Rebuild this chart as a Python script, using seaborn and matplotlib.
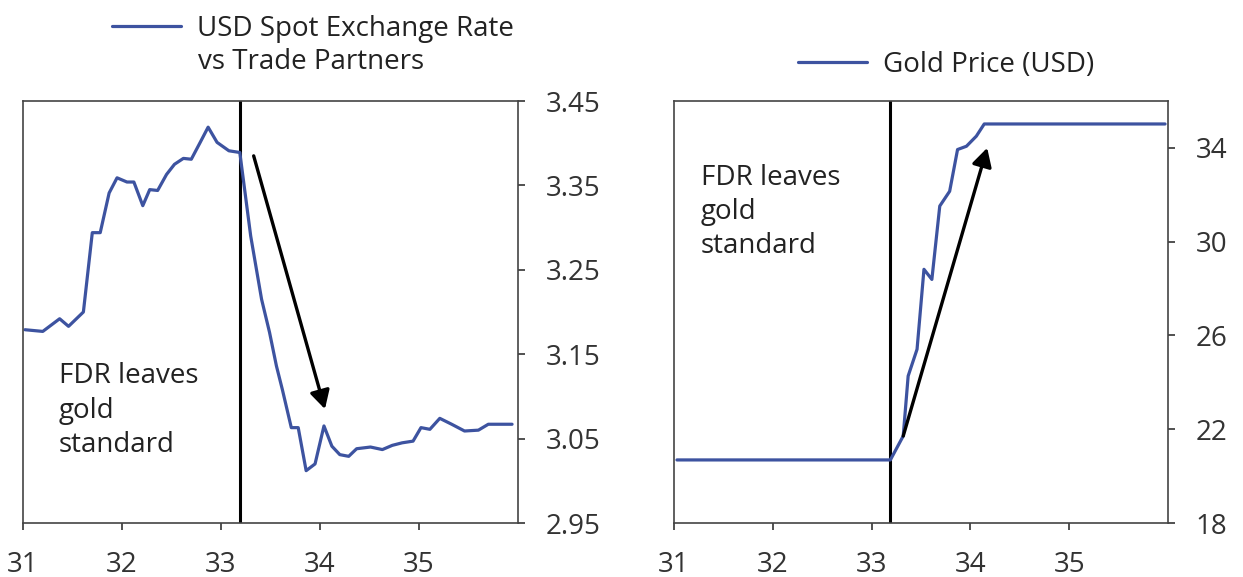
import numpy as np
import pandas as pd
import seaborn as sns
import matplotlib.pyplot as plt

# USD spot exchange rate vs trade partners (left panel)
usd_year = [31.02, 31.20, 31.37, 31.46, 31.61, 31.70, 31.78, 31.87, 31.95, 32.05,
            32.12, 32.21, 32.28, 32.36, 32.45, 32.53, 32.62, 32.70, 32.79, 32.87,
            32.96, 33.08, 33.19, 33.30, 33.41, 33.49, 33.56, 33.62, 33.71, 33.78,
            33.86, 33.95, 34.04, 34.12, 34.20, 34.29, 34.37, 34.51, 34.63, 34.73,
            34.83, 34.94, 35.02, 35.11, 35.21, 35.33, 35.46, 35.60, 35.70, 35.94]
usd_rate = [3.179, 3.177, 3.192, 3.183, 3.200, 3.294, 3.294, 3.341, 3.359, 3.354,
            3.354, 3.326, 3.345, 3.344, 3.363, 3.375, 3.382, 3.381, 3.401, 3.419,
            3.401, 3.391, 3.389, 3.290, 3.215, 3.176, 3.136, 3.108, 3.063, 3.063,
            3.012, 3.020, 3.065, 3.041, 3.031, 3.029, 3.038, 3.040, 3.037, 3.042,
            3.045, 3.047, 3.063, 3.061, 3.074, 3.067, 3.059, 3.060, 3.067, 3.067]

# gold price in USD (right panel)
gold_year = [31.03, 33.19, 33.32, 33.37, 33.46, 33.53, 33.61, 33.69, 33.79, 33.87,
             33.96, 34.06, 34.14, 35.97]
gold_price = [20.69, 20.69, 21.71, 24.27, 25.41, 28.82, 28.39, 31.52, 32.15, 33.93,
              34.07, 34.50, 35.02, 35.02]

fdr_year = 33.19
x_ticks = [31, 32, 33, 34, 35]
usd_ticks = [2.95, 3.05, 3.15, 3.25, 3.35, 3.45]
gold_ticks = [18, 22, 26, 30, 34]

usd_df = pd.DataFrame({'year': usd_year, 'rate': usd_rate})
gold_df = pd.DataFrame({'year': gold_year, 'price': gold_price})

sns.set_theme(style='white')
plt.rcParams['font.family'] = ['Open Sans', 'DejaVu Sans']
plt.rcParams['text.color'] = '#222222'
plt.rcParams['xtick.color'] = '#333333'
plt.rcParams['ytick.color'] = '#333333'

blue = '#3d53a0'
fs = 20

fig = plt.figure(figsize=(12.43, 5.77), dpi=100)
ax1 = fig.add_axes([23 / 1243, 54 / 577, 495 / 1243, 422 / 577])
ax2 = fig.add_axes([674 / 1243, 54 / 577, 494 / 1243, 422 / 577])

sns.lineplot(data=usd_df, x='year', y='rate', ax=ax1, color=blue, lw=2.3,
             label='USD Spot Exchange Rate')
sns.lineplot(data=gold_df, x='year', y='price', ax=ax2, color=blue, lw=2.3,
             label='Gold Price (USD)')

for ax in (ax1, ax2):
    ax.axvline(fdr_year, color='black', lw=2.2, zorder=1)
    ax.set_xlim(31, 36)
    ax.set_xticks(x_ticks)
    ax.set_xticklabels([str(t) for t in x_ticks], fontsize=fs)
    ax.yaxis.tick_right()
    ax.set_xlabel('')
    ax.set_ylabel('')
    for s in ax.spines.values():
        s.set_visible(True)
        s.set_color('#444444')
        s.set_linewidth(1.2)
    ax.tick_params(axis='both', direction='out', length=5, width=1.2,
                   labelsize=fs, pad=15, bottom=True, right=True, left=False)

ax1.set_ylim(2.95, 3.45)
ax1.set_yticks(usd_ticks)
ax1.set_yticklabels([f'{t:.2f}' for t in usd_ticks])
ax2.set_ylim(18, 36)
ax2.set_yticks(gold_ticks)
ax2.set_yticklabels([str(t) for t in gold_ticks])

arrow = dict(arrowstyle='-|>,head_length=0.55,head_width=0.3', lw=2.4,
             color='black', mutation_scale=20, shrinkA=0, shrinkB=0)
ax1.annotate('', xy=(34.05, 3.085), xytext=(33.33, 3.385), arrowprops=arrow)
ax2.annotate('', xy=(34.17, 34.0), xytext=(33.32, 21.71), arrowprops=arrow)

ax1.text(31.36, 3.1405, 'FDR leaves\ngold\nstandard', fontsize=fs, va='top',
         ha='left', linespacing=1.3)
ax2.text(31.27, 33.32, 'FDR leaves\ngold\nstandard', fontsize=fs, va='top',
         ha='left', linespacing=1.3)

ax1.legend(loc='upper left', bbox_to_anchor=(112 / 1243, 1 - 15 / 577),
           bbox_transform=fig.transFigure, frameon=False, fontsize=fs,
           handlelength=2.5, handletextpad=0.55, borderpad=0, borderaxespad=0)
fig.text(198 / 1243, 1 - 62 / 577, 'vs Trade Partners', fontsize=fs,
         ha='left', va='center')
ax2.legend(loc='upper left', bbox_to_anchor=(798 / 1243, 1 - 51 / 577),
           bbox_transform=fig.transFigure, frameon=False, fontsize=fs,
           handlelength=2.5, handletextpad=0.55, borderpad=0, borderaxespad=0)

fig.savefig('out.png', dpi=100)
